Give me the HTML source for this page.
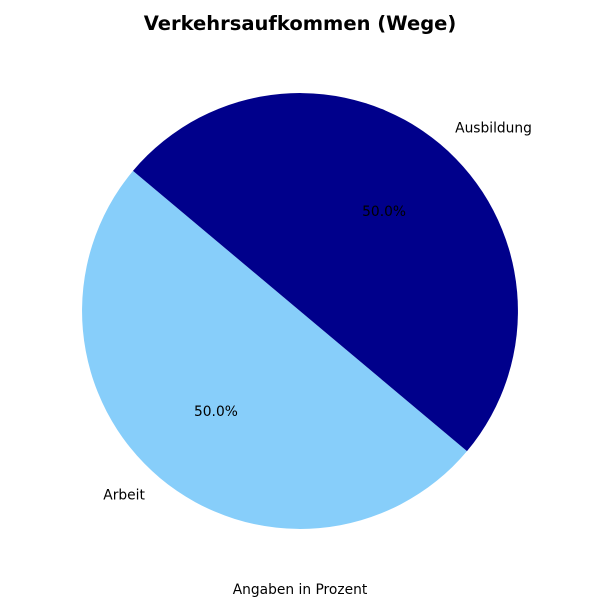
<!DOCTYPE html>
<html><head><meta charset="utf-8">
<style>
body{margin:0;background:#fff;}
svg{display:block;font-family:"DejaVu Sans","Liberation Sans",sans-serif;}
</style></head>
<body>
<svg id="chart" width="600" height="600" viewBox="0 0 600 600">
<text x="300" y="30" text-anchor="middle" font-size="19.5" font-weight="bold">Verkehrsaufkommen (Wege)</text>
<text x="300" y="594" text-anchor="middle" font-size="13.8">Angaben in Prozent</text>
<g id="slices"></g>
</svg>
<script>
const categories = ["Arbeit", "Ausbildung"];
const values = [50, 50];
const colors = ["#87cefa", "#00008b"];
const cx = 300, cy = 311, r = 218, startAngle = 140;
const NS = "http://www.w3.org/2000/svg";
const g = document.getElementById("slices");
const total = values.reduce((a, b) => a + b, 0);
function pt(deg, rad) {
  const a = deg * Math.PI / 180;
  return [cx + rad * Math.cos(a), cy - rad * Math.sin(a)];
}
let ang = startAngle;
values.forEach((v, i) => {
  const sweep = v / total * 360;
  const a0 = ang, a1 = ang + sweep;
  const p0 = pt(a0, r), p1 = pt(a1, r);
  const large = sweep > 180 ? 1 : 0;
  const path = document.createElementNS(NS, "path");
  path.setAttribute("d", `M${cx},${cy} L${p0[0]},${p0[1]} A${r},${r} 0 ${large} 0 ${p1[0]},${p1[1]} Z`);
  path.setAttribute("fill", colors[i]);
  
  
  g.appendChild(path);
  const mid = (a0 + a1) / 2;
  const lp = pt(mid, r * 1.1);
  const lbl = document.createElementNS(NS, "text");
  lbl.setAttribute("x", lp[0] + (Math.cos(mid * Math.PI / 180) < 0 ? -1 : 1));
  lbl.setAttribute("y", lp[1] + 5);
  lbl.setAttribute("font-size", "13.8");
  lbl.setAttribute("text-anchor", Math.cos(mid * Math.PI / 180) < 0 ? "end" : "start");
  lbl.textContent = categories[i];
  
  
  g.appendChild(lbl);
  const pp = pt(mid, r * 0.6);
  const pct = document.createElementNS(NS, "text");
  pct.setAttribute("x", pp[0]);
  pct.setAttribute("y", pp[1] + 5);
  pct.setAttribute("font-size", "13.8");
  pct.setAttribute("text-anchor", "middle");
  pct.textContent = (v / total * 100).toFixed(1) + "%";
  
  
  g.appendChild(pct);
  ang = a1;
});
</script>
</body></html>
